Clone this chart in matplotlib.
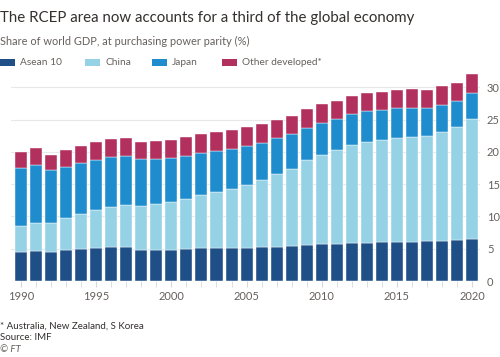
import matplotlib
matplotlib.use("Agg")
import matplotlib.pyplot as plt
from matplotlib.patches import Rectangle
import numpy as np

years = list(range(1990, 2021))
asean = [4.44, 4.70, 4.49, 4.75, 4.96, 5.16, 5.32, 5.32, 4.85, 4.85, 4.85, 4.90, 5.06, 5.11, 5.16, 5.16,
         5.27, 5.32, 5.42, 5.58, 5.73, 5.73, 5.94, 5.94, 5.99, 5.99, 6.09, 6.14, 6.25, 6.40, 6.45]
china = [4.13, 4.28, 4.44, 5.01, 5.47, 5.89, 6.19, 6.50, 6.82, 7.08, 7.33, 7.80, 8.21, 8.67, 9.09, 9.71,
         10.37, 11.20, 11.98, 13.16, 13.73, 14.56, 15.18, 15.59, 15.85, 16.16, 16.16, 16.32, 16.88, 17.40, 18.59]
japan = [8.93, 9.04, 8.21, 7.95, 7.85, 7.69, 7.69, 7.49, 7.23, 6.97, 6.87, 6.66, 6.50, 6.35, 6.19, 6.03,
         5.73, 5.58, 5.37, 5.01, 5.01, 4.75, 4.74, 4.75, 4.59, 4.64, 4.54, 4.33, 4.08, 4.03, 4.08]
other = [2.53, 2.58, 2.43, 2.53, 2.58, 2.74, 2.74, 2.79, 2.68, 2.83, 2.84, 2.89, 2.95, 3.00, 2.95, 2.90,
         2.89, 2.84, 2.83, 2.94, 2.94, 2.89, 2.84, 2.79, 2.79, 2.84, 2.90, 2.84, 2.94, 2.89, 2.88]
series_names = ["Asean 10", "China", "Japan", "Other developed*"]
colors = ["#1e4f86", "#96d2e6", "#1f8dcd", "#b1305d"]
ytick_vals = [0, 5, 10, 15, 20, 25, 30]
xtick_labels = [1990, 1995, 2000, 2005, 2010, 2015, 2020]

plt.rcParams['font.family'] = ['Lato', 'DejaVu Sans']
fig = plt.figure(figsize=(5, 3.57), dpi=100)
fig.patch.set_facecolor("white")

W, H = 500, 357
left_px, right_px = 11, 480
bottom_px, top_px = 281, 68
ax = fig.add_axes([left_px / W, 1 - bottom_px / H, (right_px - left_px) / W, (bottom_px - top_px) / H])
ax.set_facecolor("white")

data = [asean, china, japan, other]
bottom = np.zeros(len(years))
for vals, c, n in zip(data, colors, series_names):
    ax.bar(years, vals, bottom=bottom, width=0.8, color=c, edgecolor="white", linewidth=0.3, label=n, zorder=3)
    bottom += np.array(vals)

ax.set_xlim(1989.33, 2020.53)
ax.set_ylim(0, 33)
ax.set_yticks(ytick_vals)
ax.yaxis.tick_right()
ax.tick_params(axis="y", length=0, labelsize=8, labelcolor="#66605c", pad=5)
ax.grid(axis="y", color="#e8e8e8", linewidth=0.8, zorder=0)
ax.set_xticks(xtick_labels)
ax.set_xticks(years, minor=True)
ax.tick_params(axis="x", which="both", length=4, color="#d8d8d8", labelsize=8, labelcolor="#66605c", pad=3)
for s in ax.spines.values():
    s.set_visible(False)
ax.axhline(0, color="#d8d8d8", linewidth=0.8, zorder=2)

fig.text(0 / W, 1 - 18 / H, "The RCEP area now accounts for a third of the global economy",
         fontsize=10.8, color="#33302e", va="center", ha="left")
fig.text(0 / W, 1 - 41 / H, "Share of world GDP, at purchasing power parity (%)",
         fontsize=7.9, color="#66605c", va="center", ha="left")

# legend
leg_x = [0, 85, 152, 222]
for x0, c, n in zip(leg_x, colors, series_names):
    fig.patches.append(Rectangle((x0 / W, 1 - 66 / H), 15 / W, 7 / H, transform=fig.transFigure,
                                 facecolor=c, edgecolor="none"))
    fig.text((x0 + 20) / W, 1 - 62.5 / H, n, fontsize=7.3, color="#66605c", va="center", ha="left")

fig.text(0 / W, 1 - 326 / H, "* Australia, New Zealand, S Korea", fontsize=7, color="#33302e", va="center")
fig.text(0 / W, 1 - 338 / H, "Source: IMF", fontsize=7, color="#33302e", va="center")
fig.text(0 / W, 1 - 350 / H, "© FT", fontsize=7, color="#66605c", va="center", style="italic")

fig.savefig("out.png", dpi=100, facecolor="white")
